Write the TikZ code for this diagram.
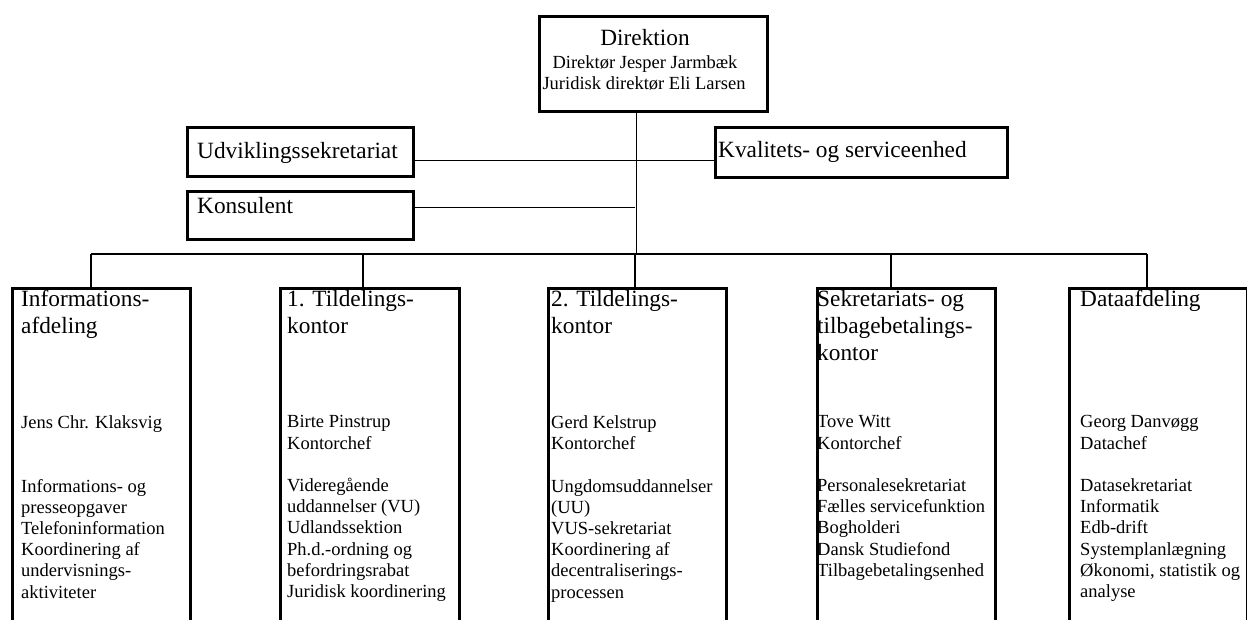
\documentclass[tikz,border=0pt]{standalone}
\usepackage{fontspec}
\setmainfont{Liberation Serif}
\newcommand\bigfs{\fontsize{23.3}{27}\selectfont}
\newcommand\smfs{\fontsize{18.5}{21.2}\selectfont}
\begin{document}
\begin{tikzpicture}[x=1pt,y=-1pt,
  box/.style={draw, line width=3pt, rectangle, inner sep=0pt, anchor=north west},
  conn/.style={line width=1.3pt},
  bigtxt/.style={font=\bigfs, inner sep=0pt, align=left},
  smtxt/.style={font=\smfs, inner sep=0pt, align=left}]
\useasboundingbox (0,0) rectangle (1247,619);
% boxes
\node[box, minimum width=228pt, minimum height=95pt] (dir) at (538,15) {};
\node[box, minimum width=226pt, minimum height=49pt] (udv) at (186,126) {};
\node[box, minimum width=226pt, minimum height=48pt] (kon) at (186,190) {};
\node[box, minimum width=292pt, minimum height=50pt] (kva) at (714,126) {};
\node[box, minimum width=178pt, minimum height=360pt] (b1) at (11,287) {};
\node[box, minimum width=179pt, minimum height=360pt] (b2) at (279,287) {};
\node[box, minimum width=178pt, minimum height=360pt] (b3) at (547,287) {};
\node[box, minimum width=178pt, minimum height=360pt] (b4) at (816,287) {};
\node[box, minimum width=178pt, minimum height=360pt] (b5) at (1068,287) {};
% texts
\node[bigtxt, anchor=base] (dirt) at (645,45) {Direktion};
\node[smtxt, anchor=base] (dir1) at (645,68) {Direktør Jesper Jarmbæk};
\node[smtxt, anchor=base] (dir2) at (644,89) {Juridisk direktør Eli Larsen};
\node[bigtxt, anchor=base west] (udvt) at (197,158) {Udviklingssekretariat};
\node[bigtxt, anchor=base west] (kont) at (197,213) {Konsulent};
\node[bigtxt, anchor=base west] (kvat) at (718,157) {Kvalitets- og serviceenhed};
\node[bigtxt, anchor=north west] (t1) at (21,290.1) {Informations-\\afdeling};
\node[bigtxt, anchor=north west] (t2) at (287,290.1) {1. Tildelings-\\kontor};
\node[bigtxt, anchor=north west] (t3) at (551,290.1) {2. Tildelings-\\kontor};
\node[bigtxt, anchor=north west] (t4) at (817,290.1) {Sekretariats- og\\tilbagebetalings-\\kontor};
\node[bigtxt, anchor=north west] (t5) at (1080,290.1) {Dataafdeling};
\node[smtxt, anchor=north west] (s1) at (21,415.4) {Jens Chr. Klaksvig\\ \mbox{}\\ \mbox{}\\Informations- og\\presseopgaver\\Telefoninformation\\Koordinering af\\undervisnings-\\aktiviteter};
\node[smtxt, anchor=north west] (s2) at (287,415.4) {Birte Pinstrup\\Kontorchef\\ \mbox{}\\Videregående\\uddannelser (VU)\\Udlandssektion\\Ph.d.-ordning og\\befordringsrabat\\Juridisk koordinering};
\node[smtxt, anchor=north west] (s3) at (551,415.4) {Gerd Kelstrup\\Kontorchef\\ \mbox{}\\Ungdomsuddannelser\\(UU)\\VUS-sekretariat\\Koordinering af\\decentraliserings-\\processen};
\node[smtxt, anchor=north west] (s4) at (817,415.4) {Tove Witt\\Kontorchef\\ \mbox{}\\Personalesekretariat\\Fælles servicefunktion\\Bogholderi\\Dansk Studiefond\\Tilbagebetalingsenhed};
\node[smtxt, anchor=north west] (s5) at (1080,415.4) {Georg Danvøgg\\Datachef\\ \mbox{}\\Datasekretariat\\Informatik\\Edb-drift\\Systemplanlægning\\Økonomi, statistik og\\analyse};
% connectors
\coordinate (bus) at (635,254);
\coordinate (bl) at (91,254);
\coordinate (br) at (1147,254);
\path ([xshift=-17pt]dir.south) coordinate (ds);
\draw[conn] (ds) -- (ds |- bus);
\path ([yshift=-8.5pt]udv.east) coordinate (ua);
\draw[conn] (ua) -- (ua -| bus);
\path ([yshift=-8pt]kva.west) coordinate (ka);
\draw[conn] (ka) -- (ka -| bus);
\path ([yshift=8pt]kon.east) coordinate (kc);
\draw[conn] (kc) -- (kc -| bus);
\draw[conn] (bl) -- (br);
\coordinate (d1) at (91,254);
\coordinate (d2) at (363,254);
\coordinate (d3) at (635,254);
\coordinate (d4) at (891,254);
\coordinate (d5) at (1147,254);
\draw[conn] (d1) -- (d1 |- b1.north);
\draw[conn] (d2) -- (d2 |- b2.north);
\draw[conn] (d3) -- (d3 |- b3.north);
\draw[conn] (d4) -- (d4 |- b4.north);
\draw[conn] (d5) -- (d5 |- b5.north);
\end{tikzpicture}
\end{document}
